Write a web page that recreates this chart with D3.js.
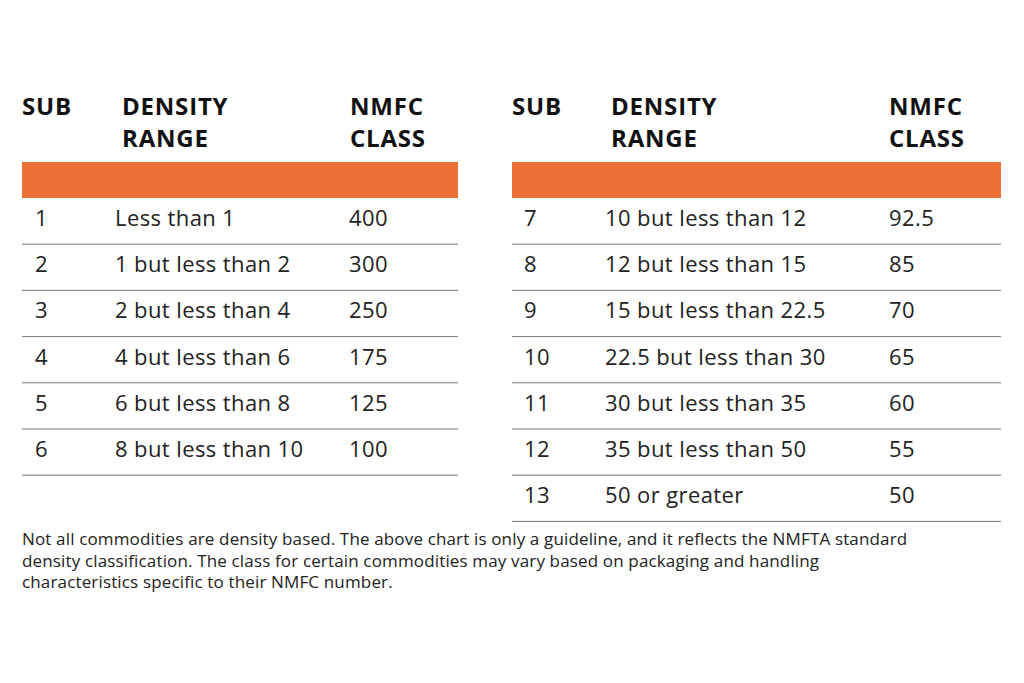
<!DOCTYPE html>
<html><head><meta charset="utf-8">
<script src="https://cdn.jsdelivr.net/npm/d3@7"></script>
<style>body{margin:0;background:#fff}</style>
</head><body>
<script>
var subs = [1,2,3,4,5,6,7,8,9,10,11,12,13];
var ranges = ["Less than 1","1 but less than 2","2 but less than 4","4 but less than 6","6 but less than 8","8 but less than 10",
  "10 but less than 12","12 but less than 15","15 but less than 22.5","22.5 but less than 30","30 but less than 35","35 but less than 50","50 or greater"];
var classes = ["400","300","250","175","125","100","92.5","85","70","65","60","55","50"];
var headers = [["SUB"],["DENSITY","RANGE"],["NMFC","CLASS"]];
var note = ["Not all commodities are density based. The above chart is only a guideline, and it reflects the NMFTA standard",
  "density classification. The class for certain commodities may vary based on packaging and handling",
  "characteristics specific to their NMFC number."];

var width = 1024, height = 683;
var font = "'Open Sans', sans-serif";
var svg = d3.select("body").append("svg").attr("width", width).attr("height", height);

var rows = subs.map(function(s, i){ return {sub:s, range:ranges[i], cls:classes[i]}; });
var tables = [
  {rows: rows.slice(0,6), x0:22, x1:458, hx:[22,122,350], cx:[35,115,349]},
  {rows: rows.slice(6), x0:512, x1:1001, hx:[512,611,889], cx:[524,605,889]}
];

tables.forEach(function(t){
  var g = svg.append("g");
  var y = d3.scaleBand().domain(d3.range(7)).range([198, 198 + 46.2*7]);
  headers.forEach(function(h, j){
    h.forEach(function(line, k){
      g.append("text").attr("x", t.hx[j]).attr("y", 115 + k*32)
        .attr("font-family", font).attr("font-weight", 700).attr("font-size", 24)
        .attr("letter-spacing", 0.8).attr("fill", "#111").text(line);
    });
  });
  g.append("rect").attr("x", t.x0).attr("y", 162).attr("width", t.x1 - t.x0).attr("height", 36).attr("fill", "#EE6F35");
  var r = g.selectAll("g.row").data(t.rows).enter().append("g")
    .attr("transform", function(d, i){ return "translate(0," + y(i) + ")"; });
  r.append("line").attr("x1", t.x0).attr("x2", t.x1)
    .attr("y1", y.bandwidth()).attr("y2", y.bandwidth()).attr("stroke", "#777").attr("stroke-width", 1);
  [function(d){return d.sub;}, function(d){return d.range;}, function(d){return d.cls;}].forEach(function(f, j){
    r.append("text").attr("x", t.cx[j]).attr("y", y.bandwidth()/2 + 5)
      .attr("font-family", font).attr("font-size", 22).attr("letter-spacing", 0.4)
      .attr("fill", "#222").text(f);
  });
});

svg.selectAll("text.note").data(note).enter().append("text").attr("class", "note")
  .attr("x", 22).attr("y", function(d, i){ return 545 + i*21.5; })
  .attr("font-family", font).attr("font-size", 17).attr("letter-spacing", 0.15)
  .attr("fill", "#222").text(function(d){ return d; });
</script>
</body></html>
